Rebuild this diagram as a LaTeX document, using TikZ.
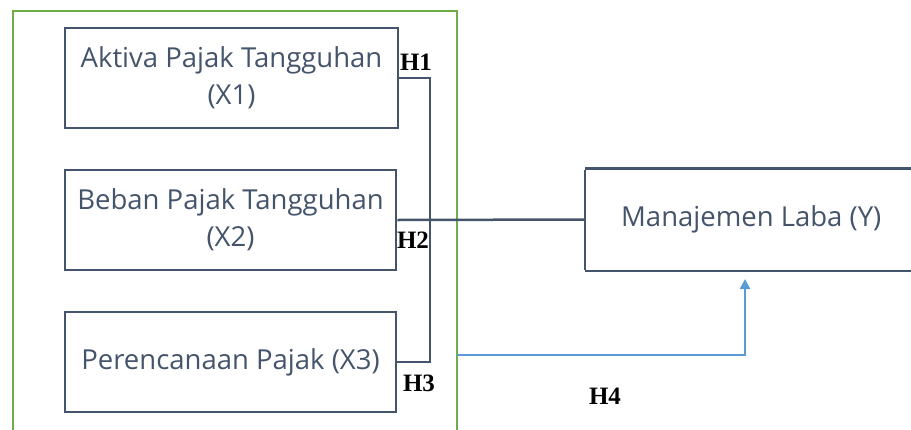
\documentclass[tikz,border=0pt]{standalone}
\usepackage{fontspec}
\setmainfont{Open Sans}
\newfontfamily\hfont{Liberation Serif}
\usetikzlibrary{arrows.meta}
\definecolor{txt}{HTML}{44546A}
\definecolor{grn}{HTML}{70AD47}
\definecolor{blu}{HTML}{5B9BD5}
\begin{document}
\begin{tikzpicture}[x=1pt,y=-1pt,
  varbox/.style={draw=txt,line width=2.5pt,text=txt,font=\fontsize{27.5}{37}\selectfont,
    align=center,inner sep=0pt,minimum height=100pt},
  hlab/.style={font=\hfont\bfseries\fontsize{25}{25}\selectfont,inner sep=0pt},
  conn/.style={draw=txt,line width=2.5pt}]
\useasboundingbox (0,0) rectangle (911,429);
\clip (0,0) rectangle (911,429);
\draw[grn,line width=2.5pt] (13,440) -- (13,11) -- (457,11) -- (457,440);
\node[varbox,minimum width=333pt] (x1) at (231.5,78) {Aktiva Pajak Tangguhan\\(X1)};
\node[varbox,minimum width=331pt] (x2) at (230.5,220) {Beban Pajak Tangguhan\\(X2)};
\node[varbox,minimum width=331pt] (x3) at (230.5,362) {Perencanaan Pajak (X3)};
\node[varbox,draw=none,minimum width=330pt,anchor=west] (y) at (585,219.5) {Manajemen Laba (Y)};
\draw[conn] (y.north west) -- ([xshift=30pt]y.north east) (y.south west) -- ([xshift=30pt]y.south east)
  ([yshift=-1.25pt]y.north west) -- ([yshift=1.25pt]y.south west);
\coordinate (b1) at (430,78);
\coordinate (b3) at (430,362);
\coordinate (b2) at (430,220);
\draw[conn] (x1.east) -- (b1) -- (b3) -- (x3.east);
\draw[conn] (x2.east) -- (y.west);
\coordinate (g) at (457,355);
\coordinate (c) at (745,355);
\draw[blu,line width=2.5pt,-{Triangle[length=10pt,width=10pt]}] (g) -- (c) -- (745,279);
\node[hlab] (h1) at (416,62) {H1};
\node[hlab] (h2) at (413,240) {H2};
\node[hlab] (h3) at (419,383) {H3};
\node[hlab] (h4) at (605,396) {H4};
\end{tikzpicture}
\end{document}
